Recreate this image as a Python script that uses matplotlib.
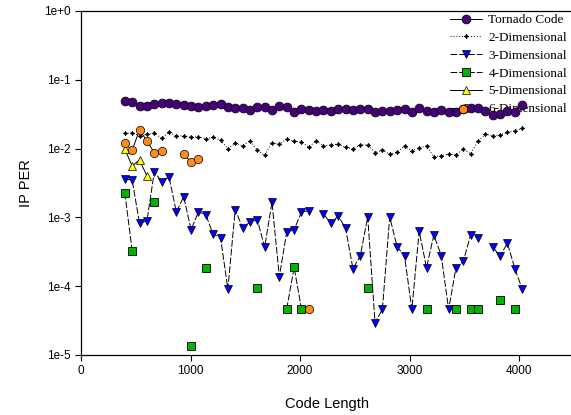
import numpy as np
import matplotlib
matplotlib.use("Agg")
from matplotlib import pyplot as plt
from matplotlib.ticker import FixedLocator, FuncFormatter, NullLocator

nan = np.nan

# code lengths shared by every series
code_len = [400, 467, 534, 602, 669, 736, 803, 870, 938, 1005,
            1072, 1139, 1206, 1274, 1341, 1408, 1475, 1542, 1610, 1677,
            1744, 1811, 1878, 1946, 2013, 2080, 2147, 2214, 2282, 2349,
            2416, 2483, 2550, 2618, 2685, 2752, 2819, 2886, 2954, 3021,
            3088, 3155, 3222, 3290, 3357, 3424, 3491, 3558, 3626, 3693,
            3760, 3827, 3894, 3962, 4029]

tornado = [0.049, 0.048, 0.041, 0.041, 0.0445, 0.0455, 0.0455, 0.0445, 0.0435, 0.041,
           0.040, 0.042, 0.0435, 0.0445, 0.040, 0.0385, 0.0385, 0.037, 0.040, 0.040,
           0.037, 0.0415, 0.040, 0.0337, 0.0376, 0.0364, 0.0356, 0.0364, 0.0352, 0.0372,
           0.0372, 0.0364, 0.0372, 0.0381, 0.034, 0.0356, 0.0356, 0.0364, 0.0372, 0.034,
           0.0394, 0.0352, 0.0344, 0.0364, 0.034, 0.0337, 0.0376, 0.0385, 0.0385, 0.0356,
           0.0308, 0.0318, 0.0352, 0.0344, 0.043]

dim2 = [0.0167, 0.0170, 0.0153, 0.0161, 0.0167, 0.0141, 0.0173, 0.0153, 0.0153, 0.0146,
        0.0149, 0.0139, 0.0146, 0.0133, 0.0100, 0.0119, 0.0110, 0.0130, 0.0095, 0.0080,
        0.0121, 0.0117, 0.0137, 0.0128, 0.0126, 0.0105, 0.0130, 0.0110, 0.0113, 0.0116,
        0.0105, 0.0099, 0.0113, 0.0113, 0.0087, 0.0095, 0.0083, 0.0088, 0.0109, 0.0092,
        0.0103, 0.0109, 0.0076, 0.0079, 0.0083, 0.0081, 0.0098, 0.0084, 0.0130, 0.0161,
        0.0154, 0.0158, 0.0172, 0.0182, 0.0197]

dim3 = [3.6e-3, 3.5e-3, 8.2e-4, 8.9e-4, 4.6e-3, 3.3e-3, 3.9e-3, 1.2e-3, 2.0e-3, 6.6e-4,
        1.2e-3, 1.1e-3, 5.7e-4, 5.1e-4, 9.1e-5, 1.3e-3, 7.1e-4, 8.5e-4, 9.2e-4, 3.7e-4,
        1.66e-3, 1.37e-4, 6.1e-4, 6.6e-4, 1.2e-3, 1.25e-3, nan, 1.12e-3, 8.2e-4, 1.05e-3,
        6.95e-4, 1.8e-4, 2.75e-4, 1.02e-3, 2.95e-5, 4.6e-5, 1.02e-3, 3.75e-4, 2.77e-4, 4.6e-5,
        6.3e-4, 1.86e-4, 5.55e-4, 2.77e-4, 4.6e-5, 1.86e-4, 2.3e-4, 5.55e-4, 5.07e-4, nan,
        3.67e-4, 2.77e-4, 4.2e-4, 1.8e-4, 9.1e-5]

dim4 = [2.29e-3, 3.28e-4, nan, nan, 1.66e-3, nan, nan, nan, nan, 1.36e-5,
        nan, 1.86e-4, nan, nan, nan, nan, nan, nan, 9.3e-5, nan,
        nan, nan, 4.66e-5, 1.88e-4, 4.66e-5, nan, nan, nan, nan, nan,
        nan, nan, nan, 9.5e-5, nan, nan, nan, nan, nan, nan,
        nan, 4.66e-5, nan, nan, nan, 4.66e-5, nan, 4.66e-5, 4.66e-5, nan,
        nan, 6.3e-5, nan, 4.66e-5, nan]

dim5 = [9.77e-3, 5.59e-3, 6.83e-3, 4.0e-3] + [nan] * 51

dim6 = [1.19e-2, 9.5e-3, 1.86e-2, 1.29e-2, 8.7e-3, 9.2e-3, nan, nan, 8.35e-3, 6.32e-3,
        6.99e-3, nan, nan, nan, nan, nan, nan, nan, nan, nan,
        nan, nan, nan, nan, nan, 4.66e-5, nan, nan, nan, nan,
        nan, nan, nan, nan, nan, nan, nan, nan, nan, nan,
        nan, nan, nan, nan, nan, nan, 3.76e-2, nan, nan, nan,
        nan, nan, nan, nan, nan]

labels = ["Tornado Code", "2-Dimensional", "3-Dimensional",
          "4-Dimensional", "5-Dimensional", "6-Dimensional"]

fig = plt.figure(figsize=(5.71, 4.15), dpi=100)
ax = fig.add_axes([0.1419, 0.1446, 0.8630, 0.8289])

dash = (0, (7, 2))
ax.plot(code_len, dim2, color="black", linestyle=(0, (1, 2)), linewidth=0.7,
        marker=(4, 1, 0), markersize=3.2, markerfacecolor="black",
        markeredgecolor="black", markeredgewidth=0.5, label=labels[1], zorder=2)
ax.plot(code_len, dim3, color="black", linestyle=dash, linewidth=0.7,
        marker="v", markersize=6.3, markerfacecolor="#0000ff",
        markeredgecolor="black", markeredgewidth=0.5, label=labels[2], zorder=3)
ax.plot(code_len, dim4, color="black", linestyle=dash, linewidth=0.7,
        marker="s", markersize=5.8, markerfacecolor="#00b400",
        markeredgecolor="black", markeredgewidth=0.6, label=labels[3], zorder=4)
ax.plot(code_len, dim5, color="black", linestyle="-", linewidth=0.7,
        marker="^", markersize=6.3, markerfacecolor="#ffff00",
        markeredgecolor="black", markeredgewidth=0.5, label=labels[4], zorder=5)
ax.plot(code_len, dim6, color="black", linestyle="-", linewidth=0.7,
        marker="o", markersize=6, markerfacecolor="#ff8c1a",
        markeredgecolor="black", markeredgewidth=0.5, label=labels[5], zorder=7)
ax.plot(code_len, tornado, color="black", linestyle="-", linewidth=0.7,
        marker="o", markersize=6.4, markerfacecolor="#46007a",
        markeredgecolor="black", markeredgewidth=0.5, label=labels[0], zorder=6)

ax.set_yscale("log")
ax.set_xlim(0, 4500)
ax.set_ylim(1e-5, 1)
ax.xaxis.set_major_locator(FixedLocator([0, 1000, 2000, 3000, 4000]))
ax.yaxis.set_major_locator(FixedLocator([1e-5, 1e-4, 1e-3, 1e-2, 1e-1, 1]))
ax.yaxis.set_minor_locator(NullLocator())
ax.yaxis.set_major_formatter(FuncFormatter(
    lambda v, p: "1e+0" if v >= 1 else "1e%d" % int(round(np.log10(v)))))

ax.tick_params(direction="out", length=4, width=0.8, labelsize=8.5,
               colors="black")
for lbl in ax.get_xticklabels() + ax.get_yticklabels():
    lbl.set_fontfamily("Liberation Sans")
for side in ["left", "bottom", "top", "right"]:
    ax.spines[side].set_linewidth(0.9)

ax.set_xlabel("Code Length", fontsize=10.5, family="Liberation Sans", labelpad=14)
ax.set_ylabel("IP PER", fontsize=10.5, family="Liberation Sans", labelpad=8)

handles, names = ax.get_legend_handles_labels()
order = [names.index(n) for n in labels]
ax.legend([handles[i] for i in order], [names[i] for i in order],
          loc="upper left", bbox_to_anchor=(450 / 571, 1 - 14 / 415),
          bbox_transform=fig.transFigure, frameon=False, borderpad=0,
          borderaxespad=0, handlelength=2.4, handletextpad=0.5,
          labelspacing=0.42, prop={"family": "Liberation Serif", "size": 9.5})

fig.savefig("out.png", dpi=100)
